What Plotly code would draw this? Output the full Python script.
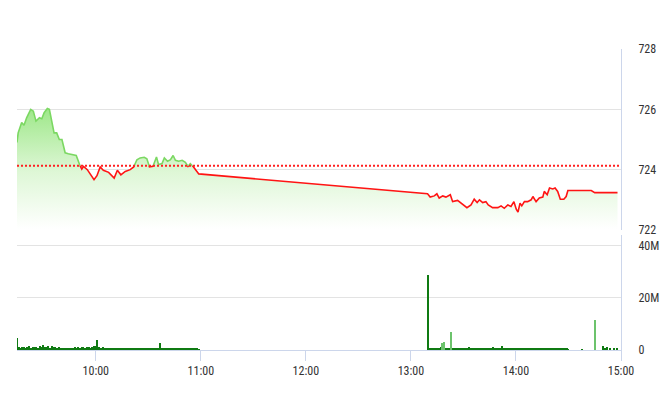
import numpy as np
import pandas as pd
import plotly.graph_objects as go

DAY = "2024-01-02 "

# ---------------- price data ----------------
price_times = [
    "09:15:00", "09:15:40", "09:17:40", "09:19:00", "09:20:30", "09:22:50", "09:24:20", "09:25:50",
    "09:27:50", "09:29:10", "09:30:30", "09:32:20", "09:33:30", "09:34:50", "09:36:10", "09:37:40",
    "09:39:10", "09:40:40", "09:42:30", "09:44:20", "09:46:20", "09:48:50", "09:51:00", "09:52:00",
    "09:53:00", "09:55:10", "09:59:00", "10:00:40", "10:02:30", "10:04:20", "10:07:20", "10:10:30",
    "10:12:20", "10:14:20", "10:16:50", "10:19:40", "10:21:40", "10:23:30", "10:25:20", "10:27:40",
    "10:29:10", "10:30:40", "10:32:40", "10:34:40", "10:35:50", "10:37:50", "10:39:10", "10:41:00",
    "10:42:40", "10:44:10", "10:45:30", "10:47:20", "10:49:20", "10:51:10", "10:52:40", "10:54:00",
    "10:55:50", "10:58:50",
    "13:09:30", "13:11:00", "13:13:20", "13:14:50", "13:16:10", "13:18:10", "13:20:00", "13:22:30",
    "13:23:50", "13:26:40", "13:29:40", "13:32:00", "13:34:20", "13:36:10", "13:37:50", "13:39:10",
    "13:41:00", "13:42:50", "13:44:10", "13:46:40", "13:49:40", "13:51:30", "13:53:20", "13:55:20",
    "13:57:10", "13:58:50", "14:00:10", "14:01:10", "14:02:20", "14:03:20", "14:04:50", "14:06:40",
    "14:08:40", "14:09:40", "14:11:30", "14:13:20", "14:15:20", "14:16:10", "14:17:50", "14:19:10",
    "14:21:00", "14:22:20", "14:23:50", "14:25:20", "14:27:20", "14:28:40", "14:29:40", "14:43:00",
    "14:45:00", "14:58:00",
]
price_values = [
    724.90, 725.22, 725.56, 725.47, 725.72, 726.00, 725.94, 725.61,
    725.72, 725.69, 725.89, 726.03, 726.00, 725.61, 725.22, 725.22,
    725.00, 725.00, 724.56, 724.53, 724.50, 724.47, 724.13, 724.02,
    724.11, 724.00, 723.67, 723.80, 724.09, 723.98, 723.91, 723.72,
    723.98, 723.83, 723.94, 724.00, 724.09, 724.33, 724.39, 724.41,
    724.36, 724.09, 724.11, 724.42, 724.17, 724.20, 724.39, 724.28,
    724.33, 724.47, 724.31, 724.28, 724.31, 724.24, 724.11, 724.20,
    724.09, 723.86,
    723.20, 723.09, 723.13, 723.20, 723.06, 723.13, 723.09, 723.17,
    722.94, 722.98, 722.86, 722.74, 722.83, 723.02, 722.91, 723.00,
    722.91, 722.94, 722.83, 722.74, 722.74, 722.80, 722.72, 722.83,
    722.78, 722.94, 722.69, 722.59, 722.89, 722.80, 722.94, 722.94,
    723.00, 723.11, 722.94, 723.06, 723.09, 723.28, 723.17, 723.39,
    723.36, 723.39, 723.28, 723.02, 723.02, 723.11, 723.31, 723.31,
    723.24, 723.24,
]
reference_price = 724.13

# ---------------- volume data (millions, one bar per minute) ----------------
morning_start = "09:15"
morning_volumes = [
    4.7,
    1.2, 0.8, 1.0, 1.3, 0.9, 1.1, 1.4, 0.7, 1.2, 1.0,
    1.3, 0.9, 1.5, 1.1, 1.8, 1.0, 1.2, 1.6, 0.9, 1.4,
    1.2, 1.0, 0.8, 1.1, 0.9, 0.6, 0.7, 0.5, 0.8, 0.6,
    0.9, 0.7, 1.0, 0.8, 1.2, 0.9, 1.1, 1.3, 0.8, 1.0,
    1.2, 0.9, 1.1, 1.4, 1.5, 3.7, 1.2, 0.9, 1.0, 0.8,
    0.7, 0.9, 0.6, 0.8, 0.5, 0.7, 0.6, 0.9, 0.5, 0.7,
    0.6, 0.5, 0.8, 0.6, 0.7, 0.5, 0.6, 0.8, 0.5, 0.6,
    0.7, 0.5, 0.6, 0.9, 0.5, 0.6, 0.7, 0.5, 0.8, 0.6,
    0.5, 2.5, 0.6, 0.8, 0.7, 0.7, 0.6, 0.5, 0.7, 0.6,
    0.5, 0.6, 0.4, 0.7, 0.5, 0.6, 0.4, 0.5, 0.6, 0.4,
    0.5, 0.4, 0.6, 0.3,
]
afternoon_start = "13:10"
afternoon_volumes = [
    28.7,
    0.4, 0.6, 0.5, 0.8, 0.7, 0.9, 1.1, 0.6, 0.5, 0.7,
    0.6, 0.5, 0.7, 0.9, 0.6, 0.5, 0.8, 0.7, 0.6, 0.9,
    0.7, 0.8, 1.0, 0.6, 0.5, 0.7, 0.6, 0.8, 0.5, 0.6,
    0.7, 0.6, 0.8, 0.9, 0.6, 0.7, 1.0, 0.8, 0.6, 0.7,
    0.9, 1.5, 0.7, 0.6, 0.8, 0.7, 0.9, 0.6, 0.8, 0.7,
    0.6, 0.8, 0.7, 0.9, 0.6, 0.5, 0.7, 0.8, 0.6, 0.7,
    0.9, 0.7, 0.6, 0.8, 0.5, 0.7, 0.6, 0.8, 0.9, 0.6,
    0.7, 0.5, 0.6, 0.8, 0.7, 0.5, 0.6, 0.4, 0.5, 0.3,
]
late_times = ["14:38", "14:50", "14:51", "14:52", "14:54", "14:56", "14:58"]
late_volumes = [0.2, 1.6, 0.8, 1.0, 0.7, 0.6, 0.9]
light_times = ["13:18", "13:19", "13:23", "14:45"]
light_volumes = [2.6, 2.9, 6.8, 11.5]

x_ticks = ["10:00", "11:00", "12:00", "13:00", "14:00", "15:00"]
price_ticks = [722, 724, 726, 728]
volume_ticks = [0, 20, 40]
volume_tick_labels = ["0", "20M", "40M"]

# ---------------- build ----------------
def ts(s):
    return pd.Timestamp(DAY + s)

px_t = np.array([ts(t).value for t in price_times], dtype=float)
px_v = np.array(price_values, dtype=float)

# insert crossing points with the reference so the line can change colour there
xs, ys = [px_t[0]], [px_v[0]]
for i in range(1, len(px_v)):
    a, b = px_v[i - 1] - reference_price, px_v[i] - reference_price
    if a * b < 0:
        f = a / (a - b)
        xs.append(px_t[i - 1] + f * (px_t[i] - px_t[i - 1]))
        ys.append(reference_price)
    xs.append(px_t[i]); ys.append(px_v[i])
xs = np.array(xs); ys = np.array(ys)
eps = 1e-9
above = np.where(ys >= reference_price - eps, ys, np.nan)
below = np.where(ys <= reference_price + eps, ys, np.nan)
x_dates = pd.to_datetime(xs.astype(np.int64))

mv_t = pd.date_range(DAY + morning_start, periods=len(morning_volumes), freq="1min")
av_t = pd.date_range(DAY + afternoon_start, periods=len(afternoon_volumes), freq="1min")
vol_t = list(mv_t) + list(av_t) + [ts(t) for t in late_times]
vol_v = morning_volumes + afternoon_volumes + late_volumes

fig = go.Figure()

# gradient area
fig.add_trace(go.Scatter(
    x=x_dates, y=ys, mode="lines", line=dict(width=0, color="rgba(0,0,0,0)"),
    fill="tozeroy",
    fillgradient=dict(type="vertical", start=722, stop=726.2,
                      colorscale=[[0, "rgba(255,255,255,1)"], [0.45, "rgb(222,247,214)"],
                                  [1, "rgb(152,230,130)"]]),
    yaxis="y", hoverinfo="skip", showlegend=False,
))
fig.add_trace(go.Scatter(
    x=x_dates, y=below, mode="lines", line=dict(color="#ff1414", width=1.6),
    connectgaps=False, yaxis="y", showlegend=False,
))
fig.add_trace(go.Scatter(
    x=x_dates, y=above, mode="lines", line=dict(color="#7bd862", width=1.6),
    connectgaps=False, yaxis="y", showlegend=False,
))

# volume bars
fig.add_trace(go.Bar(
    x=vol_t, y=vol_v, marker=dict(color="#0f7a12", line=dict(width=0)),
    width=40000, yaxis="y2", showlegend=False,
))
fig.add_trace(go.Bar(
    x=[ts(t) for t in light_times], y=light_volumes,
    marker=dict(color="#6cc36c", line=dict(width=0)),
    width=45000, yaxis="y2", showlegend=False,
))

fig.add_shape(type="line", xref="paper", x0=0, x1=1, yref="y",
              y0=reference_price, y1=reference_price,
              line=dict(color="#ff2020", width=2, dash="2px,2px"))

axis_font = dict(family="Liberation Sans Narrow, Roboto Condensed, Roboto, sans-serif",
                 size=12, color="#333333")

fig.update_layout(
    width=660, height=412,
    margin=dict(l=17, r=39, t=49, b=62),
    paper_bgcolor="white", plot_bgcolor="white",
    bargap=0, barmode="overlay",
    xaxis=dict(
        type="date", anchor="y2", automargin=False,
        range=[ts("09:15"), ts("15:00")],
        tickvals=[ts(t) for t in x_ticks], ticktext=x_ticks,
        showgrid=False, showline=True, linecolor="#ccd6eb", linewidth=1,
        ticks="outside", ticklen=10, tickcolor="#ccd6eb",
        tickfont=axis_font, zeroline=False,
    ),
    yaxis=dict(
        domain=[0.3987, 1], range=[722, 728], side="right", automargin=False,
        tickvals=price_ticks, ticktext=[str(v) for v in price_ticks],
        showgrid=True, gridcolor="#e3e3e3", gridwidth=1,
        showline=True, linecolor="#ccd6eb", linewidth=1,
        ticks="", ticklabelstandoff=14, tickfont=axis_font, zeroline=False,
    ),
    yaxis2=dict(
        domain=[0, 0.382], range=[0, 44], side="right", automargin=False,
        tickvals=volume_ticks, ticktext=volume_tick_labels,
        showgrid=True, gridcolor="#e3e3e3", gridwidth=1,
        showline=True, linecolor="#ccd6eb", linewidth=1,
        ticks="", ticklabelstandoff=14, tickfont=axis_font, zeroline=False,
    ),
)

# remove the browser's default page margin so the 660x412 figure fills the window exactly
fig.write_html(
    "out.html",
    config={"displayModeBar": False},
    post_script="document.body.style.margin='0';document.body.style.overflow='hidden';",
)
